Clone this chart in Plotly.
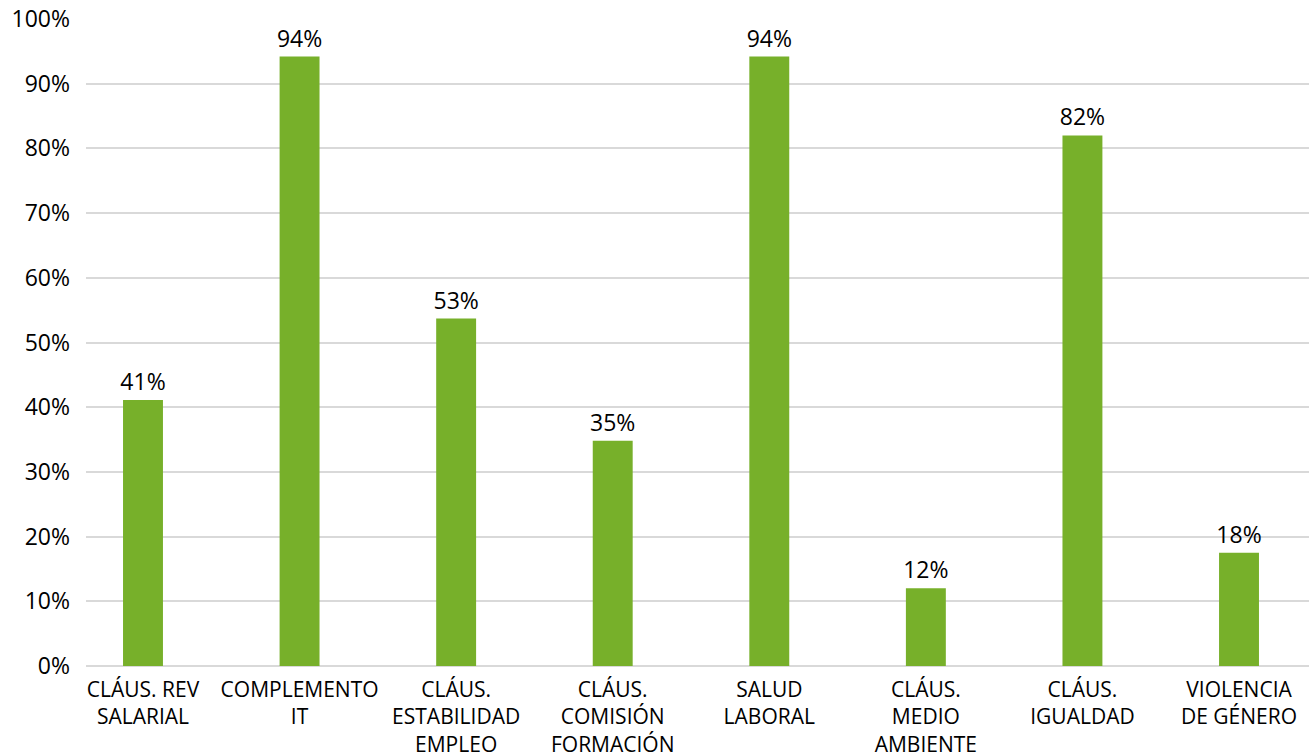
import plotly.graph_objects as go

categories = [
    "CLÁUS. REV<br>SALARIAL",
    "COMPLEMENTO<br>IT",
    "CLÁUS.<br>ESTABILIDAD<br>EMPLEO",
    "CLÁUS.<br>COMISIÓN<br>FORMACIÓN",
    "SALUD<br>LABORAL",
    "CLÁUS.<br>MEDIO<br>AMBIENTE",
    "CLÁUS.<br>IGUALDAD",
    "VIOLENCIA<br>DE GÉNERO",
]
values = [41.1, 94.2, 53.7, 34.8, 94.2, 12.0, 82.0, 17.5]
value_labels = ["41%", "94%", "53%", "35%", "94%", "12%", "82%", "18%"]
y_ticks = [0, 10, 20, 30, 40, 50, 60, 70, 80, 90, 100]
y_tick_labels = [f"{v}%" for v in y_ticks]

FONT = "Open Sans"
GREEN = "#77B02A"

fig = go.Figure(
    go.Bar(
        x=categories,
        y=values,
        text=value_labels,
        textposition="outside",
        constraintext="none",
        textfont=dict(family=FONT, size=23, color="#000000"),
        marker=dict(color=GREEN, line=dict(width=0)),
        width=0.255,
        cliponaxis=False,
    )
)

fig.update_layout(
    width=1314,
    height=753,
    margin=dict(l=86, r=5, t=19, b=87, autoexpand=False),
    paper_bgcolor="white",
    plot_bgcolor="white",
    showlegend=False,
    font=dict(family=FONT, size=22, color="#000000"),
)

fig.update_xaxes(
    type="category",
    range=[-0.364, 7.447],
    automargin=False,
    showgrid=False,
    showline=False,
    ticks="",
    tickfont=dict(family=FONT, size=21, color="#000000"),
    tickangle=0,
    ticklabelstandoff=9,
)

fig.update_yaxes(
    range=[0, 100],
    automargin=False,
    tickvals=y_ticks,
    ticktext=y_tick_labels,
    showgrid=True,
    gridcolor="#D9D9D9",
    gridwidth=1.5,
    zeroline=True,
    zerolinecolor="#D9D9D9",
    zerolinewidth=1.5,
    showline=False,
    ticks="",
    tickfont=dict(family=FONT, size=23, color="#000000"),
    ticklabelstandoff=15,
)

fig.write_html("out.html")
